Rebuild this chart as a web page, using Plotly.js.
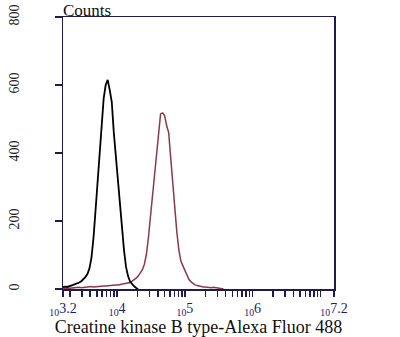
<!DOCTYPE html>
<html>
<head>
<meta charset="utf-8">
<script src="https://cdn.plot.ly/plotly-3.0.1.min.js"></script>
<style>html,body{margin:0;padding:0;background:#fff;}#chart{width:400px;height:337px;}</style>
</head>
<body>
<div id="chart"></div>
<script>
// log10 of fluorescence intensity for each histogram bin
const controlLog = [3.20,3.23,3.26,3.29,3.32,3.35,3.38,3.41,3.44,3.47,3.50,3.53,3.56,3.59,3.62,3.65,3.68,3.71,3.74,3.77,3.80,3.83,3.86,3.89,3.92,3.95,3.98,4.01,4.04,4.07,4.10,4.13,4.16,4.19,4.22,4.25,4.28,4.31];
const controlCounts = [5,7,6,9,10,12,14,16,19,23,28,35,44,60,92,150,230,315,410,500,560,600,615,585,550,460,390,325,250,175,115,65,38,22,14,8,3,0];

const sampleLog = [3.20,3.23,3.26,3.29,3.32,3.35,3.38,3.41,3.44,3.47,3.50,3.53,3.56,3.59,3.62,3.65,3.68,3.71,3.74,3.77,3.80,3.83,3.86,3.89,3.92,3.95,3.98,4.01,4.04,4.07,4.10,4.13,4.16,4.19,4.22,4.25,4.28,4.31,4.34,4.37,4.40,4.43,4.46,4.49,4.52,4.55,4.58,4.61,4.64,4.67,4.70,4.73,4.76,4.79,4.82,4.85,4.88,4.91,4.94,4.97,5.00,5.03,5.06,5.09,5.12,5.15,5.18,5.21,5.24,5.27,5.30,5.33,5.36,5.39,5.42,5.45,5.48,5.51,5.54,5.57];
const sampleCounts = [0,2,3,2,3,4,3,4,5,4,5,6,5,6,7,6,7,8,7,8,9,9,10,10,11,11,12,12,13,14,15,16,17,19,23,27,32,38,46,56,72,100,150,210,275,340,410,470,515,518,510,480,460,385,305,240,168,115,82,68,55,40,28,21,15,12,10,8,7,6,6,5,5,4,5,4,4,3,2,0];

const yTicks = [0,200,400,600,800];
const yTickText = ['0','200','400','600','800'];
const xMajorExp = ['3.2','4','5','6','7.2'];
const xMajorLog = [3.2,4,5,6,7.2];
const xMinorVals = [2e3,3e3,4e3,5e3,6e3,7e3,8e3,9e3,2e4,3e4,4e4,5e4,6e4,7e4,8e4,9e4,2e5,3e5,4e5,5e5,6e5,7e5,8e5,9e5,2e6,3e6,4e6,5e6,6e6,7e6,8e6,9e6,1e7];

const toLin = a => a.map(v => Math.pow(10, v));

const tickvals = toLin(xMajorLog).concat(xMinorVals);
const ticktext = xMajorExp.map(e => '<sub>10</sub>' + e).concat(xMinorVals.map(() => ''));

const axisColor = '#1c1c4e';
const serif = 'Liberation Serif, DejaVu Serif, serif';

const data = [
  {x: toLin(sampleLog), y: sampleCounts, type: 'scatter', mode: 'lines',
   line: {color: '#8a3a46', width: 1.5}, hoverinfo: 'skip'},
  {x: toLin(controlLog), y: controlCounts, type: 'scatter', mode: 'lines',
   line: {color: '#000000', width: 1.8}, hoverinfo: 'skip'}
];

const layout = {
  width: 400, height: 337,
  margin: {l: 63, r: 66, t: 17, b: 48},
  paper_bgcolor: '#ffffff', plot_bgcolor: '#ffffff',
  showlegend: false,
  font: {family: serif, color: '#111'},
  xaxis: {
    type: 'log', range: [3.2, 7.2],
    tickmode: 'array', tickvals: tickvals, ticktext: ticktext,
    ticks: 'outside', ticklen: 6, tickwidth: 1.5, tickcolor: axisColor,
    showline: true, linecolor: axisColor, linewidth: 1.5, mirror: true,
    showgrid: false, zeroline: false,
    tickfont: {family: serif, size: 14, color: '#1c1c6e'},
    title: {text: 'Creatine kinase B type-Alexa Fluor 488', standoff: 0,
            font: {family: serif, size: 18, color: '#111'}}
  },
  yaxis: {
    range: [0, 800],
    tickmode: 'array', tickvals: yTicks, ticktext: yTickText,
    tickangle: -90,
    ticks: 'outside', ticklen: 7, tickwidth: 1.5, tickcolor: axisColor,
    ticklabelstandoff: 30,
    showline: true, linecolor: axisColor, linewidth: 1.5, mirror: true,
    showgrid: false, zeroline: false,
    tickfont: {family: serif, size: 14, color: '#222'}
  },
  annotations: [
    {text: 'Counts', xref: 'paper', yref: 'paper', x: 0, y: 1, xanchor: 'left', yanchor: 'bottom',
     xshift: -2, yshift: -5, showarrow: false,
     font: {family: serif, size: 17, color: '#111'}}
  ]
};

Plotly.newPlot('chart', data, layout, {staticPlot: true, displayModeBar: false});
</script>
</body>
</html>
